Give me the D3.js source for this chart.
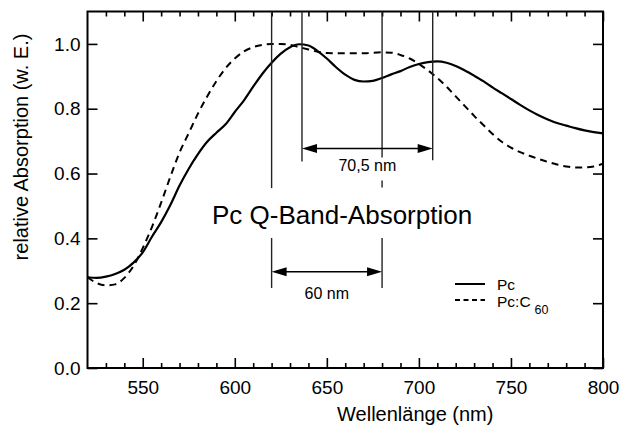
<!DOCTYPE html>
<html>
<head>
<meta charset="utf-8">
<script src="https://cdn.jsdelivr.net/npm/d3@7"></script>
<style>
  body { margin: 0; background: #fff; }
  svg { font-family: "Liberation Sans", Arial, sans-serif; }
</style>
</head>
<body>
<svg id="chart" width="619" height="427"></svg>
<script>
// wavelengths (nm)
const wavelengthPc = [520, 525, 530, 535, 540, 545, 550, 555, 560, 565, 570, 575, 580, 585, 590, 595, 600, 605, 610, 615, 620, 625, 630, 635, 640, 645, 650, 655, 660, 665, 670, 675, 680, 685, 690, 695, 700, 705, 710, 715, 720, 725, 730, 735, 740, 745, 750, 755, 760, 765, 770, 775, 780, 785, 790, 795, 800];
const absorptionPc = [0.280, 0.278, 0.282, 0.290, 0.303, 0.325, 0.357, 0.405, 0.450, 0.503, 0.563, 0.615, 0.660, 0.698, 0.726, 0.752, 0.790, 0.826, 0.868, 0.908, 0.942, 0.970, 0.990, 0.999, 0.995, 0.978, 0.955, 0.928, 0.905, 0.889, 0.884, 0.886, 0.895, 0.906, 0.916, 0.929, 0.938, 0.944, 0.946, 0.942, 0.932, 0.918, 0.902, 0.885, 0.866, 0.848, 0.830, 0.812, 0.795, 0.780, 0.767, 0.756, 0.748, 0.740, 0.733, 0.728, 0.724];

const wavelengthC60 = [520, 525, 530, 535, 540, 545, 550, 555, 560, 565, 570, 575, 580, 585, 590, 595, 600, 605, 610, 615, 620, 625, 630, 635, 640, 645, 650, 660, 670, 680, 685, 690, 695, 700, 705, 710, 715, 720, 725, 730, 735, 740, 745, 750, 755, 760, 765, 770, 775, 780, 785, 790, 795, 800];
const absorptionC60 = [0.280, 0.262, 0.255, 0.258, 0.278, 0.315, 0.370, 0.435, 0.510, 0.590, 0.665, 0.725, 0.785, 0.838, 0.885, 0.925, 0.955, 0.977, 0.990, 0.997, 1.000, 1.000, 0.997, 0.990, 0.983, 0.976, 0.972, 0.971, 0.971, 0.974, 0.973, 0.966, 0.955, 0.938, 0.918, 0.895, 0.868, 0.838, 0.808, 0.778, 0.750, 0.722, 0.698, 0.680, 0.666, 0.655, 0.645, 0.636, 0.628, 0.622, 0.619, 0.619, 0.622, 0.630];

const xTicks = [550, 600, 650, 700, 750, 800];
const yTicks = [0.0, 0.2, 0.4, 0.6, 0.8, 1.0];

// annotation: band positions (nm)
const bandPc = [636.5, 707.5];
const bandC60 = [620, 680];
const bandLabels = ["70,5 nm", "60 nm"];

const svg = d3.select("#chart");
const x = d3.scaleLinear().domain([520, 800]).range([87.5, 603]);
const y = d3.scaleLinear().domain([0, 1.1]).range([368, 11.5]);

const minorX = d3.range(530, 800, 10).filter(v => v % 50 !== 0);

// bottom axis
svg.append("g").attr("transform", `translate(0,${y(0)})`)
    .call(d3.axisBottom(x).tickValues(xTicks).tickSize(-10).tickPadding(13).tickFormat(d3.format("d")));
svg.append("g").attr("transform", `translate(0,${y(0)})`)
    .call(d3.axisBottom(x).tickValues(minorX).tickSize(-5).tickFormat(""));
// top axis
svg.append("g").attr("transform", `translate(0,${y(1.1)})`)
    .call(d3.axisTop(x).tickValues(xTicks).tickSize(-10).tickFormat(""));
svg.append("g").attr("transform", `translate(0,${y(1.1)})`)
    .call(d3.axisTop(x).tickValues(minorX).tickSize(-5).tickFormat(""));
// left/right axes
svg.append("g").attr("transform", `translate(${x(520)},0)`)
    .call(d3.axisLeft(y).tickValues(yTicks).tickSize(-10).tickPadding(7).tickFormat(d3.format(".1f")));
svg.append("g").attr("transform", `translate(${x(800)},0)`)
    .call(d3.axisRight(y).tickValues(yTicks).tickSize(-10).tickFormat(""));

svg.selectAll(".domain").remove();
svg.selectAll(".tick line").attr("stroke", "#000").attr("stroke-width", 1.6);
svg.selectAll(".tick text").attr("font-size", 19).attr("fill", "#000")
    .attr("font-family", "Liberation Sans, Arial, sans-serif");

// frame
svg.append("rect")
    .attr("x", x(520)).attr("y", y(1.1))
    .attr("width", x(800) - x(520)).attr("height", y(0) - y(1.1))
    .attr("fill", "none").attr("stroke", "#000").attr("stroke-width", 2);

// axis titles
svg.append("text")
    .attr("x", (x(520) + x(800)) / 2 + 70).attr("y", 421)
    .attr("text-anchor", "middle").attr("font-size", 20)
    .text("Wellenlänge (nm)");
svg.append("text")
    .attr("transform", `translate(28,147) rotate(-90)`)
    .attr("text-anchor", "middle").attr("font-size", 20)
    .text("relative Absorption (w. E.)");

// curves
const line = d3.line().x(d => x(d[0])).y(d => y(d[1])).curve(d3.curveMonotoneX);
svg.append("path")
    .datum(d3.zip(wavelengthC60, absorptionC60))
    .attr("d", line).attr("fill", "none").attr("stroke", "#000")
    .attr("stroke-width", 2).attr("stroke-dasharray", "7,5");
svg.append("path")
    .datum(d3.zip(wavelengthPc, absorptionPc))
    .attr("d", line).attr("fill", "none").attr("stroke", "#000")
    .attr("stroke-width", 2.2);

// annotation lines
const ann = svg.append("g").attr("stroke", "#222").attr("stroke-width", 1.4);
// upper segments
[[bandC60[0], 0.555], [bandPc[0], 0.637], [bandC60[1], 0.557], [bandPc[1], 0.641]].forEach(([w, v]) => {
    ann.append("line").attr("x1", x(w)).attr("x2", x(w)).attr("y1", y(1.1)).attr("y2", y(v));
});
// lower segments
bandC60.forEach(w => {
    ann.append("line").attr("x1", x(w)).attr("x2", x(w)).attr("y1", y(0.401)).attr("y2", y(0.247));
});

function arrow(x1, x2, yy) {
    const g = svg.append("g");
    g.append("line").attr("x1", x1 + 10).attr("x2", x2 - 10).attr("y1", yy).attr("y2", yy)
        .attr("stroke", "#000").attr("stroke-width", 1.5);
    g.append("path").attr("d", `M${x1},${yy}L${x1 + 15},${yy - 4.5}L${x1 + 15},${yy + 4.5}Z`).attr("fill", "#000");
    g.append("path").attr("d", `M${x2},${yy}L${x2 - 15},${yy - 4.5}L${x2 - 15},${yy + 4.5}Z`).attr("fill", "#000");
}
arrow(x(bandPc[0]), x(bandPc[1]), y(0.677));
arrow(x(bandC60[0]), x(bandC60[1]), y(0.297));

// 70,5 nm label with white background
const lbl1 = svg.append("text")
    .attr("x", x((bandPc[0] + bandPc[1]) / 2)).attr("y", 170.5)
    .attr("text-anchor", "middle").attr("font-size", 16).text(bandLabels[0]);
const bb = lbl1.node().getBBox();
svg.insert("rect", () => lbl1.node())
    .attr("x", bb.x - 1).attr("y", bb.y + 1).attr("width", bb.width + 2).attr("height", bb.height + 6)
    .attr("fill", "#fff");

svg.append("text")
    .attr("x", x((bandC60[0] + bandC60[1]) / 2)).attr("y", 298.5)
    .attr("text-anchor", "middle").attr("font-size", 16).text(bandLabels[1]);

svg.append("text")
    .attr("x", 212).attr("y", 223.5)
    .attr("font-size", 26).text("Pc Q-Band-Absorption");

// legend
const legend = svg.append("g").attr("transform", "translate(455,284)");
legend.append("line").attr("x1", 0).attr("x2", 30).attr("y1", 0).attr("y2", 0)
    .attr("stroke", "#000").attr("stroke-width", 2);
legend.append("line").attr("x1", 0).attr("x2", 30).attr("y1", 16).attr("y2", 16)
    .attr("stroke", "#000").attr("stroke-width", 2).attr("stroke-dasharray", "5,3.5");
legend.append("text").attr("font-size", 15.5).attr("x", 42).attr("y", 5.5).text("Pc");
const lt = legend.append("text").attr("font-size", 15.5).attr("x", 42).attr("y", 23);
lt.append("tspan").text("Pc:C");
lt.append("tspan").attr("dx", 4).attr("dy", 7).attr("font-size", 12.5).text("60");
</script>
</body>
</html>
